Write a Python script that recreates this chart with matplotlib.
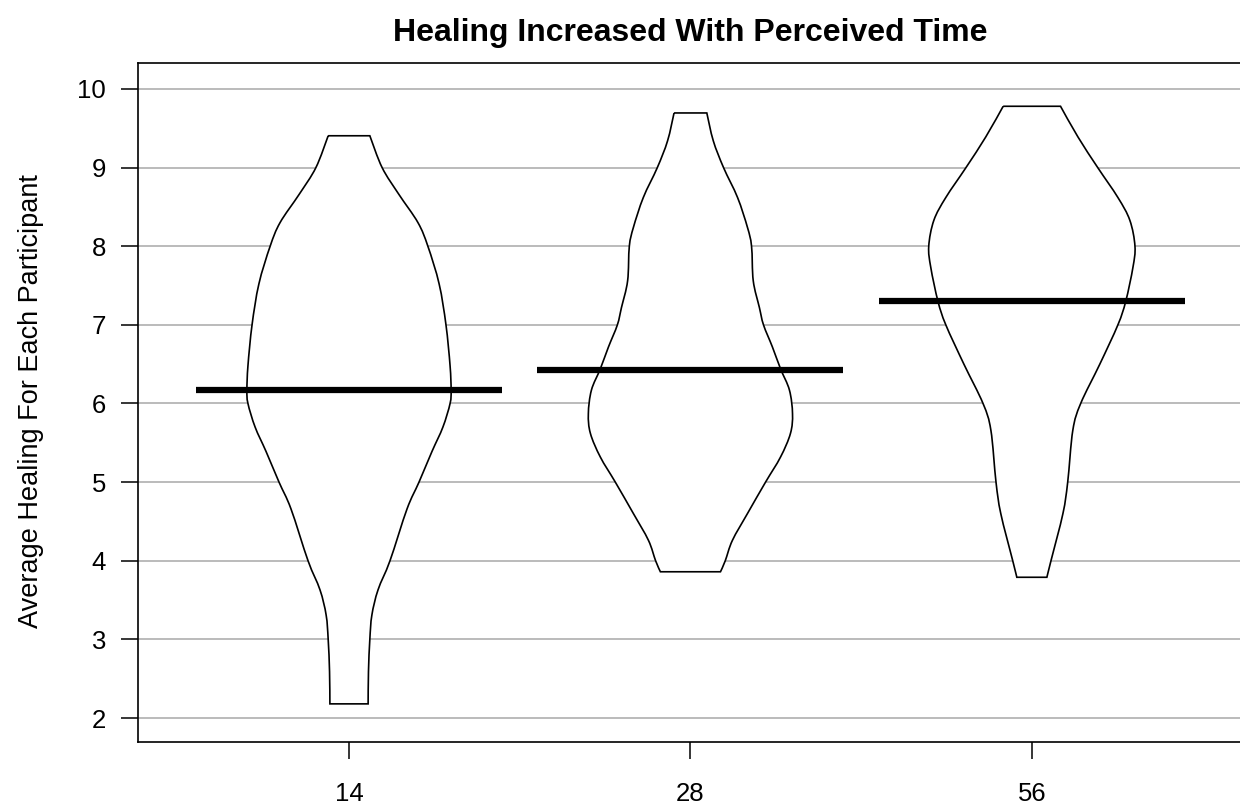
import matplotlib
matplotlib.use("Agg")
import matplotlib.pyplot as plt
from matplotlib.path import Path
from matplotlib.patches import PathPatch
import numpy as np

plt.rcParams['font.family'] = ['Liberation Sans', 'DejaVu Sans']

groups = ['14', '28', '56']
means = [6.17, 6.43, 7.30]

# violin outlines: y value, half width (in x units)
v1_y = [9.405, 9.0, 8.66, 8.3, 8.0, 7.52, 7.0, 6.48, 6.17, 6.0, 5.7, 5.39, 5.0, 4.66, 4.0, 3.63, 3.31, 3.0, 2.59, 2.18]
v1_w = [0.061, 0.097, 0.146, 0.202, 0.231, 0.264, 0.284, 0.296, 0.299, 0.296, 0.275, 0.243, 0.205, 0.170, 0.120, 0.085, 0.067, 0.061, 0.057, 0.056]

v2_y = [9.695, 9.34, 9.0, 8.62, 8.24, 8.0, 7.56, 7.22, 7.0, 6.72, 6.44, 6.17, 5.87, 5.62, 5.32, 5.0, 4.6, 4.26, 4.0, 3.86]
v2_w = [0.048, 0.067, 0.097, 0.138, 0.167, 0.179, 0.184, 0.202, 0.214, 0.240, 0.264, 0.290, 0.299, 0.293, 0.264, 0.220, 0.167, 0.123, 0.102, 0.088]

v3_y = [9.78, 9.39, 9.0, 8.62, 8.33, 8.0, 7.73, 7.3, 7.0, 6.5, 6.0, 5.66, 5.0, 4.6, 4.0, 3.79]
v3_w = [0.084, 0.135, 0.193, 0.252, 0.287, 0.302, 0.296, 0.275, 0.252, 0.199, 0.143, 0.120, 0.105, 0.091, 0.056, 0.044]

violins = [(v1_y, v1_w), (v2_y, v2_w), (v3_y, v3_w)]
bar_half = 0.448


def smooth_side(pts):
    # catmull-rom through the read points, as cubic bezier segments
    verts, codes = [], []
    n = len(pts)
    for i in range(n - 1):
        p0 = pts[max(i - 1, 0)]
        p1 = pts[i]
        p2 = pts[i + 1]
        p3 = pts[min(i + 2, n - 1)]
        c1 = p1 + (p2 - p0) / 6.0
        c2 = p2 - (p3 - p1) / 6.0
        verts += [c1, c2, p2]
        codes += [Path.CURVE4] * 3
    return verts, codes


def violin_path(c, vy, vw):
    vy = np.array(vy)
    vw = np.array(vw)
    left = np.column_stack([c - vw, vy])
    right = np.column_stack([c + vw, vy])[::-1]
    verts = [left[0]]
    codes = [Path.MOVETO]
    v, k = smooth_side(left)
    verts += v
    codes += k
    verts.append(right[0])
    codes.append(Path.LINETO)
    v, k = smooth_side(right)
    verts += v
    codes += k
    verts.append(left[0])
    codes.append(Path.LINETO)
    return Path(np.array(verts), codes)


fig = plt.figure(figsize=(12.4, 8.06), dpi=100)
ax = fig.add_axes([0.1113, 0.0794, 0.891, 0.8424])

ax.set_xlim(0.382, 3.618)
ax.set_ylim(1.695, 10.33)

for yv in range(2, 11):
    ax.axhline(yv, color='#a8a8a8', lw=1.1, zorder=0)

for i, (vy, vw) in enumerate(violins):
    c = i + 1
    p = violin_path(c, vy, vw)
    ax.add_patch(PathPatch(p, facecolor='white', edgecolor='black', lw=1.2, zorder=2))
    ax.plot([c - bar_half, c + bar_half], [means[i], means[i]], color='black',
            lw=4.5, solid_capstyle='butt', zorder=3)

ax.set_xticks([1, 2, 3])
ax.set_xticklabels(groups)
ax.set_yticks(range(2, 11))
ax.tick_params(axis='both', direction='out', length=12, width=1.1, labelsize=18.5, colors='black')
ax.tick_params(axis='x', pad=17)
ax.tick_params(axis='y', pad=11)

for s in ax.spines.values():
    s.set_linewidth(1.2)
    s.set_color('black')

fig.text(31 / 1240, 0.502, 'Average Healing For Each Participant', rotation=90,
         ha='center', va='center', fontsize=19.5)
fig.text(690 / 1240, 1 - 33 / 806, 'Healing Increased With Perceived Time',
         ha='center', va='center', fontsize=23, fontweight='bold')

fig.savefig('out.png', dpi=100)
